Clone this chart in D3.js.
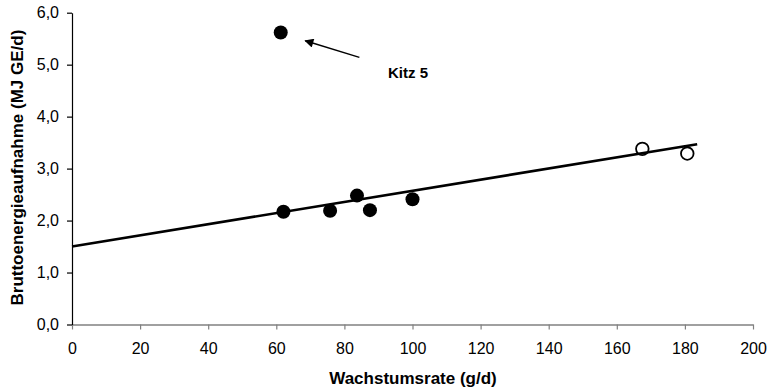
<!DOCTYPE html>
<html>
<head>
<meta charset="utf-8">
<script src="https://cdn.jsdelivr.net/npm/d3@7"></script>
<style>
  html, body { margin: 0; padding: 0; background: #fff; }
  svg { display: block; }
  text { font-family: "Liberation Sans", Arial, sans-serif; }
</style>
</head>
<body>
<svg id="chart" width="771" height="390"></svg>
<script>
// Data
const filledX = [61.3, 62.1, 75.8, 83.7, 87.5, 100.0];
const filledY = [5.62, 2.17, 2.19, 2.48, 2.20, 2.41];
const openX = [167.5, 180.7];
const openY = [3.38, 3.29];
const trendX = [0, 183.6];
const trendY = [1.50, 3.47];
const xTicks = [0, 20, 40, 60, 80, 100, 120, 140, 160, 180, 200];
const yTicks = [0, 1, 2, 3, 4, 5, 6];
const annotation = { label: "Kitz 5", fromX: 84.4, fromY: 5.14, toX: 68.5, toY: 5.46 };
const xTitle = "Wachstumsrate (g/d)";
const yTitle = "Bruttoenergieaufnahme (MJ GE/d)";

const svg = d3.select("#chart");
const mLeft = 72, mRight = 753, mTop = 12.7, mBottom = 324.5;

const x = d3.scaleLinear().domain([0, 200]).range([mLeft, mRight]);
const y = d3.scaleLinear().domain([0, 6]).range([mBottom, mTop]);
const fmt = d => d3.format(".1f")(d).replace(".", ",");

// X axis
const gx = svg.append("g").attr("transform", `translate(0,${mBottom})`)
  .call(d3.axisBottom(x).tickValues(xTicks).tickSize(5).tickSizeOuter(0).tickPadding(13.5));
gx.select(".domain").attr("stroke", "#808080").attr("stroke-width", 1.5);
gx.selectAll(".tick line").attr("stroke", "#808080").attr("stroke-width", 1.2);
gx.selectAll(".tick text").attr("font-size", 16).attr("fill", "#000")
  .attr("font-family", "Liberation Sans, Arial, sans-serif");

// Y axis
const gy = svg.append("g").attr("transform", `translate(${mLeft},0)`)
  .call(d3.axisLeft(y).tickValues(yTicks).tickFormat(fmt).tickSize(5).tickSizeOuter(0).tickPadding(8));
gy.select(".domain").attr("stroke", "#000").attr("stroke-width", 1.2);
gy.selectAll(".tick line").attr("stroke", "#000").attr("stroke-width", 1.2);
gy.selectAll(".tick text").attr("font-size", 16).attr("fill", "#000")
  .attr("font-family", "Liberation Sans, Arial, sans-serif");

// Trend line
svg.append("line")
  .attr("x1", x(trendX[0])).attr("y1", y(trendY[0]))
  .attr("x2", x(trendX[1])).attr("y2", y(trendY[1]))
  .attr("stroke", "#000").attr("stroke-width", 2.6);

// Points
svg.selectAll("circle.filled").data(filledX.map((d, i) => [d, filledY[i]]))
  .enter().append("circle").attr("class", "filled")
  .attr("cx", d => x(d[0])).attr("cy", d => y(d[1])).attr("r", 7)
  .attr("fill", "#000");
svg.selectAll("circle.open").data(openX.map((d, i) => [d, openY[i]]))
  .enter().append("circle").attr("class", "open")
  .attr("cx", d => x(d[0])).attr("cy", d => y(d[1])).attr("r", 6.3)
  .attr("fill", "none").attr("stroke", "#000").attr("stroke-width", 1.8);

// Arrow annotation
svg.append("defs").append("marker")
  .attr("id", "arrowhead").attr("viewBox", "0 0 10 10")
  .attr("refX", 9).attr("refY", 5).attr("markerWidth", 11).attr("markerHeight", 9)
  .attr("markerUnits", "userSpaceOnUse").attr("orient", "auto")
  .append("path").attr("d", "M0,0 L10,5 L0,10 Z").attr("fill", "#000");
svg.append("line")
  .attr("x1", x(annotation.fromX)).attr("y1", y(annotation.fromY))
  .attr("x2", x(annotation.toX)).attr("y2", y(annotation.toY))
  .attr("stroke", "#000").attr("stroke-width", 1.5)
  .attr("marker-end", "url(#arrowhead)");
svg.append("text").attr("x", 388).attr("y", 78)
  .attr("font-size", 15).attr("font-weight", "bold").text(annotation.label);

// Titles
svg.append("text").attr("x", 413).attr("y", 384)
  .attr("text-anchor", "middle").attr("font-size", 17).attr("font-weight", "bold")
  .text(xTitle);
svg.append("text")
  .attr("transform", `translate(23,${(mTop + mBottom) / 2 - 1}) rotate(-90)`)
  .attr("text-anchor", "middle").attr("font-size", 17).attr("font-weight", "bold")
  .text(yTitle);
</script>
</body>
</html>
